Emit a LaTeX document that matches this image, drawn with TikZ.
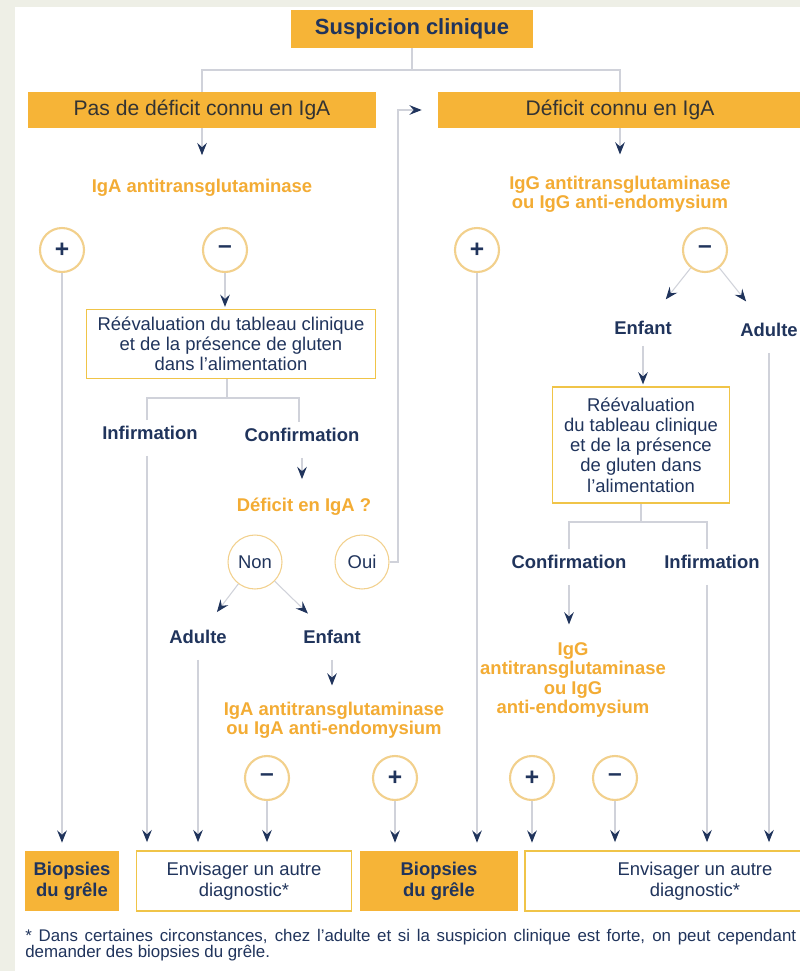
\documentclass[tikz,border=0pt]{standalone}
\usepackage{fontspec}
\setmainfont{Liberation Sans}
\usepackage{xcolor}
\usetikzlibrary{arrows.meta,shapes}

\begin{document}
\begin{tikzpicture}[x=0.02cm,y=-0.02cm]
    \definecolor{fondpage}{RGB}{238,239,230}
    \definecolor{orangefond}{RGB}{246,180,55}
    \definecolor{orangetxt}{RGB}{243,172,52}
    \definecolor{bleunuit}{RGB}{32,52,92}
    \definecolor{grisfil}{RGB}{208,210,218}
    \definecolor{cerclebord}{RGB}{242,208,140}
    \definecolor{cadrebord}{RGB}{240,196,72}

    \tikzstyle{titre}=[rectangle,fill=orangefond,text=bleunuit,font=\fontsize{12.5}{15}\selectfont\bfseries,minimum height=0.76cm]  % bandeau du haut
    \tikzstyle{bandeau}=[rectangle,fill=orangefond,text=black!80,font=\fontsize{12}{14}\selectfont,minimum height=0.72cm]
    \tikzstyle{cadre}=[rectangle,draw=cadrebord,line width=1pt,fill=white,text=bleunuit,align=center,font=\fontsize{10.5}{11.5}\selectfont]
    \tikzstyle{biopsie}=[rectangle,fill=orangefond,text=bleunuit,align=center,font=\fontsize{10.5}{12}\selectfont\bfseries,minimum height=1.2cm]
    \tikzstyle{autre}=[cadre,minimum height=1.2cm,font=\fontsize{10.5}{12}\selectfont]
    \tikzstyle{examen}=[text=orangetxt,align=center,font=\fontsize{10.5}{11}\selectfont\bfseries]  % texte orange
    \tikzstyle{issue}=[text=bleunuit,font=\fontsize{10.5}{12}\selectfont\bfseries]
    \tikzstyle{signe}=[circle,draw=cerclebord,line width=1.2pt,fill=white,text=bleunuit,minimum size=0.88cm,inner sep=0pt,font=\fontsize{14}{14}\selectfont\bfseries]
    \tikzstyle{reponse}=[circle,draw=cerclebord,line width=0.6pt,fill=white,text=bleunuit,minimum size=1.08cm,inner sep=0pt,font=\fontsize{10.5}{12}\selectfont]
    \tikzstyle{fil}=[draw=grisfil,line width=0.6pt]
    \tikzstyle{fleche}=[fil,-{Stealth[length=7pt,width=5.5pt,inset=2.5pt,color=bleunuit]}]

    \useasboundingbox (0,0) rectangle (800,971);
    \clip (0,0) rectangle (800,971);
    \fill[fondpage] (0,0) rectangle (800,971);
    \fill[white] (15,7) rectangle (800,971);

    % les noeuds
    \node[titre,minimum width=4.84cm](susp) at (412,29){Suspicion clinique};
    \node[bandeau,minimum width=6.96cm](pasdef) at (202,110){Pas de déficit connu en IgA};
    \node[bandeau,minimum width=7.28cm](def) at (620,110){Déficit connu en IgA};
    \node[examen](iga) at (202,188){IgA antitransglutaminase};
    \node[examen](igg) at (620,194){IgG antitransglutaminase\\ou IgG anti-endomysium};
    \node[signe](plusA) at (62,250){+};
    \node[signe](moinsA) at (225,250){–};
    \node[signe](plusB) at (477,250){+};
    \node[signe](moinsB) at (705,250){–};
    \node[cadre,minimum width=5.78cm,minimum height=1.38cm](reevalA) at (231,344){Réévaluation du tableau clinique\\et de la présence de gluten\\dans l'alimentation};
    \node[issue](infA) at (150,433){Infirmation};
    \node[issue](confA) at (302,435){Confirmation};
    \node[examen](deficit) at (304,507){Déficit en IgA ?};
    \node[reponse](non) at (255,562){Non};
    \node[reponse](oui) at (362,562){Oui};
    \node[issue](adulteA) at (198,637){Adulte};
    \node[issue](enfantA) at (332,637){Enfant};
    \node[examen](igaB) at (334,720){IgA antitransglutaminase\\ou IgA anti-endomysium};
    \node[signe](moinsC) at (267,778){–};
    \node[signe](plusC) at (395,778){+};
    \node[issue](enfantB) at (643,328){Enfant};
    \node[issue](adulteB) at (769,330){Adulte};
    \node[cadre,minimum width=3.54cm,minimum height=2.32cm](reevalB) at (641,445){Réévaluation\\du tableau clinique\\et de la présence\\de gluten dans\\l'alimentation};
    \node[issue](confB) at (569,562){Confirmation};
    \node[issue](infB) at (712,562){Infirmation};
    \node[examen](iggB) at (573,680){IgG\\antitransglutaminase\\ou IgG\\anti-endomysium};
    \node[signe](plusD) at (532,778){+};
    \node[signe](moinsD) at (615,778){–};
    % ligne du bas
    \node[biopsie,minimum width=1.9cm](bioA) at (72,881){Biopsies\\du grêle};
    \node[autre,minimum width=4.3cm](autreA) at (244,881){Envisager un autre\\diagnostic*};
    \node[biopsie,minimum width=3.16cm](bioB) at (439,881){Biopsies\\du grêle};
    \node[autre,minimum width=6.8cm](autreB) at (695,881){Envisager un autre\\diagnostic*};
    \node[text=bleunuit,align=left,anchor=north west,inner sep=0pt,font=\fontsize{9.6}{9.2}\selectfont](renvoi) at (25,929){\makebox[15.42cm][s]{* Dans certaines circonstances, chez l'adulte et si la suspicion clinique est forte, on peut cependant}\\demander des biopsies du grêle.};

    % les traits
    \coordinate(fourche) at (412,70);
    \draw[fil](susp)--(fourche);
    \draw[fil](pasdef.north)|-(fourche)-|(def.north);
    \draw[fleche,shorten >=0.36cm](pasdef)--(iga);
    \draw[fleche,shorten >=0.3cm](def)--(igg);
    \draw[fleche,shorten >=1pt](moinsA)--(moinsA|-reevalA.north);
    \coordinate(fourcheA) at (227,398);
    \draw[fil](reevalA.south-|fourcheA)--(fourcheA);
    \draw[fil]([xshift=-0.06cm]infA.north)|-(fourcheA)-|([xshift=-0.06cm]confA.north);
    \draw[fleche,shorten <=0.2cm,shorten >=0.26cm](confA)--(confA|-deficit.north);
    \coordinate(coude) at (398,110);
    \draw[fleche,shorten >=0.32cm](oui.east)-|(coude)--(def.west);
    \draw[fleche,shorten >=0.3cm](non)--(adulteA);
    \draw[fleche,shorten >=0.3cm](non)--(enfantA);
    \draw[fleche,shorten <=0.2cm,shorten >=0.2cm](enfantA)--(enfantA|-igaB.north);
    \draw[fleche,shorten >=0.4cm](moinsB)--(enfantB);
    \draw[fleche,shorten >=0.4cm](moinsB)--(adulteB);
    \draw[fleche,shorten <=0.1cm,shorten >=1pt](enfantB)--(enfantB|-reevalB.north);
    \coordinate(fourcheB) at (641,522);
    \draw[fil](reevalB)--(fourcheB);
    \draw[fil](confB.north)|-(fourcheB)-|([xshift=-0.1cm]infB.north);
    \draw[fleche,shorten <=0.2cm,shorten >=0.24cm](confB)--(confB|-iggB.north);
    % vers les cadres du bas
    \draw[fleche,shorten >=0.16cm](plusA)--(plusA|-bioA.north);
    \draw[fleche,shorten <=0.2cm,shorten >=0.16cm]([xshift=-0.06cm]infA.south)--([xshift=-0.06cm]infA.south|-autreA.north);
    \draw[fleche,shorten <=0.2cm,shorten >=0.16cm](adulteA)--(adulteA|-autreA.north);
    \draw[fleche,shorten >=0.16cm](moinsC)--(moinsC|-autreA.north);
    \draw[fleche,shorten >=0.16cm](plusC)--(plusC|-bioB.north);
    \draw[fleche,shorten >=0.16cm](plusB)--(plusB|-bioB.north);
    \draw[fleche,shorten >=0.16cm](plusD)--(plusD|-bioB.north);
    \draw[fleche,shorten >=0.16cm](moinsD)--(moinsD|-autreB.north);
    \draw[fleche,shorten <=0.2cm,shorten >=0.16cm]([xshift=-0.1cm]infB.south)--([xshift=-0.1cm]infB.south|-autreB.north);
    \draw[fleche,shorten <=0.2cm,shorten >=0.16cm](adulteB)--(adulteB|-autreB.north);
\end{tikzpicture}
\end{document}
